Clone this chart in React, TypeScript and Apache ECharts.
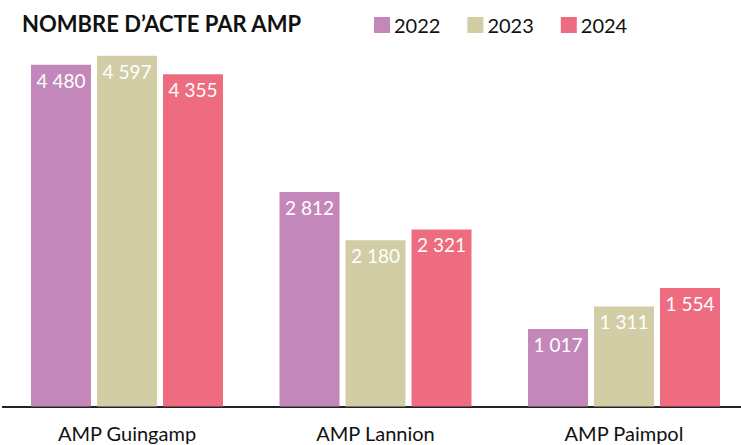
import React, { useEffect, useRef } from "react";
import * as echarts from "echarts";

const categories = ["AMP Guingamp", "AMP Lannion", "AMP Paimpol"];
const years = ["2022", "2023", "2024"];
const values2022 = [4480, 2812, 1017];
const values2023 = [4597, 2180, 1311];
const values2024 = [4355, 2321, 1554];
const colors = ["#C487B9", "#D2CDA4", "#EE6C80"];

const FONT = "Lato, 'Noto Sans', sans-serif";

const fmt = (v: number) => {
  const s = String(v);
  return s.length > 3 ? s.slice(0, s.length - 3) + " " + s.slice(-3) : s;
};

export default function App() {
  const ref = useRef<HTMLDivElement>(null);
  useEffect(() => {
    if (!ref.current) return;
    const chart = echarts.init(ref.current, null, { renderer: "svg" });
    const seriesData = [values2022, values2023, values2024];
    chart.setOption({
      animation: false,
      backgroundColor: "#ffffff",
      title: {
        text: "NOMBRE D’ACTE PAR AMP",
        left: 22,
        top: 12,
        padding: 0,
        textStyle: {
          fontFamily: FONT,
          fontSize: 22,
          fontWeight: 700,
          color: "#111111",
        },
      },
      legend: {
        data: years,
        left: 374,
        top: 15,
        padding: 0,
        itemWidth: 16,
        itemHeight: 16,
        itemGap: 27,
        icon: "rect",
        textStyle: {
          fontFamily: FONT,
          fontSize: 20,
          color: "#111111",
          padding: [0, 0, 0, -1],
        },
      },
      grid: {
        left: 2.75,
        right: 11.75,
        top: 25,
        bottom: 38.5,
        containLabel: false,
      },
      xAxis: {
        type: "category",
        data: categories,
        axisLine: { lineStyle: { color: "#222222", width: 2 } },
        axisTick: { show: false },
        axisLabel: {
          fontFamily: FONT,
          fontSize: 20,
          color: "#111111",
          margin: 16,
        },
      },
      yAxis: {
        type: "value",
        min: 0,
        max: 5000,
        show: false,
        splitLine: { show: false },
      },
      series: years.map((y, i) => ({
        name: y,
        type: "bar",
        data: seriesData[i],
        barWidth: 60,
        barGap: "10%",
        itemStyle: { color: colors[i] },
        label: {
          show: true,
          position: "insideTop",
          distance: 6,
          color: "#ffffff",
          fontFamily: FONT,
          fontSize: 19,
          formatter: (p: any) => fmt(p.value),
        },
      })),
    });
    return () => chart.dispose();
  }, []);
  return (
    <div
      style={{
        position: "absolute",
        left: 0,
        top: 0,
        width: 741,
        height: 445,
        overflow: "hidden",
      }}
    >
      <div ref={ref} style={{ width: 760, height: 445 }} />
    </div>
  );
}
